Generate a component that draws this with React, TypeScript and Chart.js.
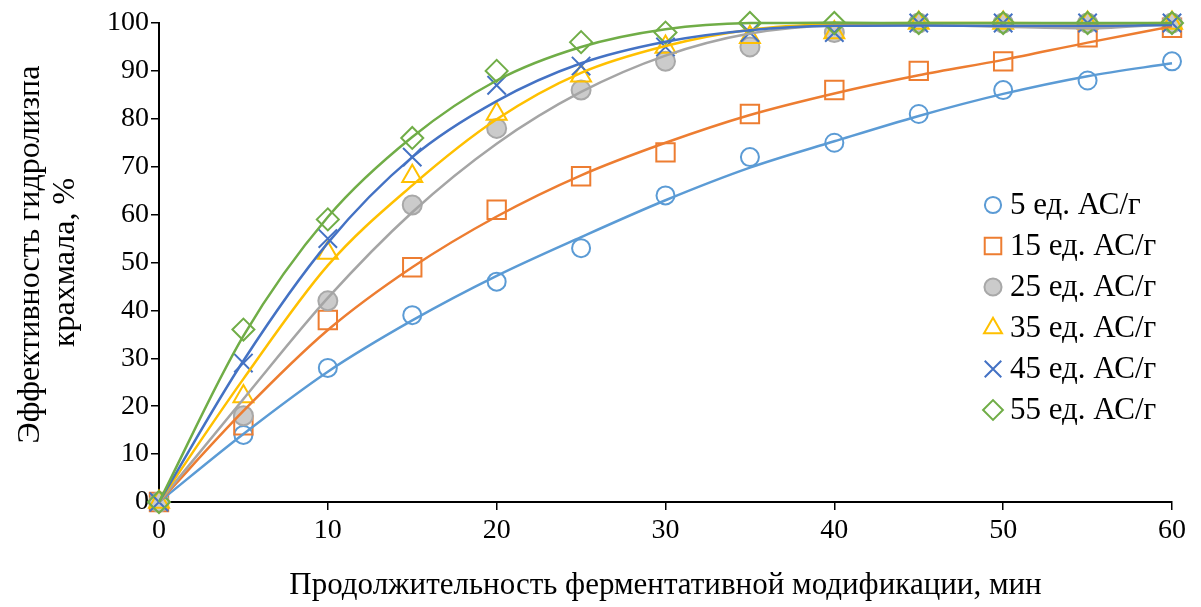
import React, { useEffect, useRef } from 'react';
import { Chart, registerables } from 'chart.js';
import { drawPoint } from 'chart.js/helpers';

Chart.register(...registerables);

const FONT = '"Times New Roman", "Liberation Serif", serif';

const xValues = [0, 5, 10, 15, 20, 25, 30, 35, 40, 45, 50, 55, 60];

const seriesLabels = ['5 ед. АС/г', '15 ед. АС/г', '25 ед. АС/г', '35 ед. АС/г', '45 ед. АС/г', '55 ед. АС/г'];

// measured points
const s5 = [0, 14, 28, 39, 46, 53, 64, 72, 75, 81, 86, 88, 92];
const s15 = [0, 16, 38, 49, 61, 68, 73, 81, 86, 90, 92, 97, 99];
const s25 = [0, 18, 42, 62, 78, 86, 92, 95, 98, 100, 100, 100, 100];
const s35 = [0, 22, 52, 68, 81, 89, 95, 97, 98, 100, 100, 100, 100];
const s45 = [0, 29, 55, 72, 87, 91, 95, 98, 98, 100, 100, 100, 100];
const s55 = [0, 36, 59, 76, 90, 96, 98, 100, 100, 100, 100, 100, 100];

// trendline values at the same x positions
const t5 = [0, 14.2, 27.2, 37.9, 47.2, 55.3, 63.0, 69.8, 75.3, 80.6, 85.2, 88.9, 91.6];
const t15 = [0, 19.0, 35.9, 49.0, 59.6, 68.2, 75.0, 80.8, 85.3, 89.1, 92.3, 95.9, 99.3];
const t25 = [0, 21.5, 42.6, 60.5, 74.8, 85.6, 93.2, 97.8, 99.5, 99.6, 99.2, 98.9, 99.8];
const t35 = [0, 25.7, 49.4, 66.1, 79.9, 89.6, 95.2, 98.6, 99.8, 100, 100, 99.9, 100];
const t45 = [0, 29.5, 54.1, 72.0, 83.7, 91.6, 96.1, 98.5, 99.4, 99.5, 99.4, 99.4, 99.6];
const t55 = [0, 34.7, 59.5, 76.2, 88.0, 95.0, 98.7, 100, 100.1, 100, 100, 100, 100];

const xTickStep = 10;
const yTickStep = 10;

const points = [s5, s15, s25, s35, s45, s55];
const trends = [t5, t15, t25, t35, t45, t55];

const lineColors = ['#5B9BD5', '#ED7D31', '#A5A5A5', '#FFC000', '#4472C4', '#70AD47'];
const markerStyles = ['circle', 'rect', 'circle', 'triangle', 'crossRot', 'rectRot'];
const markerRadius = [9, 13, 9.5, 11.5, 13, 11];
const markerFill = ['rgba(0,0,0,0)', 'rgba(0,0,0,0)', '#CBCBCB', 'rgba(0,0,0,0)', 'rgba(0,0,0,0)', 'rgba(0,0,0,0)'];
const markerBorder = ['#5B9BD5', '#ED7D31', '#A8A8A8', '#FFC000', '#4472C4', '#70AD47'];

const toXY = (arr: number[]) => xValues.map((x, i) => ({ x, y: arr[i] }));

const insideLegend = {
  id: 'insideLegend',
  afterDatasetsDraw(chart: any) {
    const ctx = chart.ctx as CanvasRenderingContext2D;
    const mx = 993;
    const tx = 1010;
    const top = 205;
    const gap = 41;
    seriesLabels.forEach((label, i) => {
      const y = top + i * gap;
      ctx.save();
      ctx.fillStyle = markerFill[i];
      ctx.strokeStyle = markerBorder[i];
      ctx.lineWidth = 2;
      drawPoint(ctx, { pointStyle: markerStyles[i] as any, rotation: 0, radius: markerRadius[i] * 0.9, borderWidth: 2 } as any, mx, y);
      ctx.restore();
      ctx.save();
      ctx.fillStyle = '#000';
      ctx.font = `31px ${FONT}`;
      ctx.textAlign = 'left';
      ctx.textBaseline = 'middle';
      ctx.fillText(label, tx, y + 1);
      ctx.restore();
    });
  },
};

export default function App() {
  const canvasRef = useRef<HTMLCanvasElement | null>(null);

  useEffect(() => {
    if (!canvasRef.current) return;
    const markerSets = points.map((arr, i) => ({
      type: 'scatter' as const,
      label: seriesLabels[i],
      data: toXY(arr),
      showLine: false,
      pointStyle: markerStyles[i],
      pointRadius: markerRadius[i],
      pointBackgroundColor: markerFill[i],
      pointBorderColor: markerBorder[i],
      pointBorderWidth: 2,
      order: 20 - i,
      clip: false as any,
    }));
    const trendSets = trends.map((arr, i) => ({
      type: 'scatter' as const,
      label: 'trend ' + seriesLabels[i],
      data: toXY(arr),
      showLine: true,
      borderColor: lineColors[i],
      borderWidth: 2.5,
      pointRadius: 0,
      pointHoverRadius: 0,
      cubicInterpolationMode: 'monotone' as const,
      order: 10 - i,
      clip: false as any,
    }));

    const chart = new Chart(canvasRef.current, {
      type: 'scatter',
      data: { datasets: [...markerSets, ...trendSets] as any },
      options: {
        animation: false,
        responsive: true,
        maintainAspectRatio: false,
        layout: { padding: { top: 23, right: 29, bottom: 0, left: 0 } },
        plugins: {
          legend: { display: false },
          tooltip: { enabled: false },
        },
        scales: {
          x: {
            type: 'linear',
            min: 0,
            max: 60,
            ticks: { stepSize: xTickStep, color: '#000', font: { size: 28, family: FONT }, padding: 4 },
            grid: { display: true, drawOnChartArea: false, drawTicks: true, tickLength: 8, color: '#000', lineWidth: 1.5 },
            border: { display: true, color: '#000', width: 2 },
            title: {
              display: true,
              text: 'Продолжительность ферментативной модификации, мин',
              color: '#000',
              font: { size: 31, family: FONT },
              padding: { top: 0, bottom: 3 },
            },
            afterFit: (s: any) => { s.height = 105; },
          },
          y: {
            type: 'linear',
            min: 0,
            max: 100,
            ticks: { stepSize: yTickStep, color: '#000', font: { size: 28, family: FONT }, padding: 2 },
            grid: { display: true, drawOnChartArea: false, drawTicks: true, tickLength: 8, color: '#000', lineWidth: 1.5 },
            border: { display: true, color: '#000', width: 2 },
            title: {
              display: true,
              text: ['  Эффективность гидролизпа', 'крахмала, %'],
              color: '#000',
              font: { size: 32, family: FONT, lineHeight: 1.1 },
              padding: { top: 13, bottom: 0 },
            },
            afterFit: (s: any) => { s.width = 159; },
          },
        },
      },
      plugins: [insideLegend],
    });
    return () => chart.destroy();
  }, []);

  return (
    <div style={{ position: 'absolute', left: 0, top: 0, width: 1201, height: 607, background: '#fff' }}>
      <canvas ref={canvasRef} />
    </div>
  );
}
